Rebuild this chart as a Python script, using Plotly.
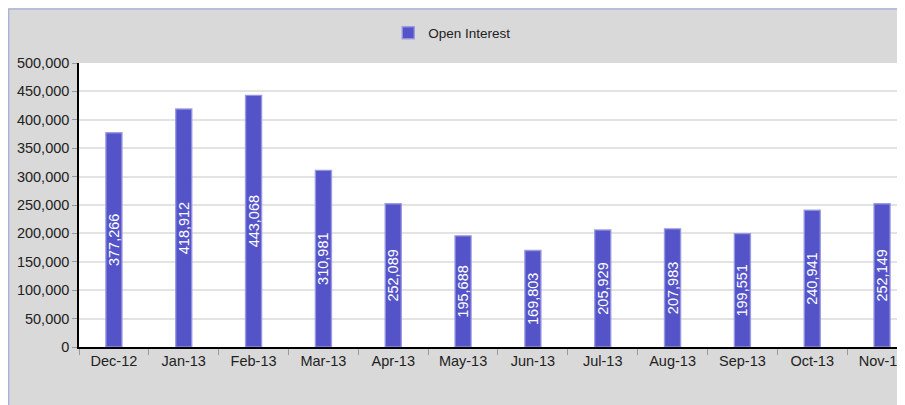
import plotly.graph_objects as go

months = ["Dec-12", "Jan-13", "Feb-13", "Mar-13", "Apr-13", "May-13",
          "Jun-13", "Jul-13", "Aug-13", "Sep-13", "Oct-13", "Nov-13"]
open_interest = [377266, 418912, 443068, 310981, 252089, 195688,
                 169803, 205929, 207983, 199551, 240941, 252149]
y_ticks = [0, 50000, 100000, 150000, 200000, 250000, 300000, 350000, 400000, 450000, 500000]

# page has an 8px body margin, so the figure is placed at (8, 8)
OFF = 8
W, H = 905 - OFF, 405 - OFF
L, R, T, B = 79 - OFF, 0, 63 - OFF, 405 - 347
PW, PH = W - L - R, H - T - B

def px(x):  # page pixel -> paper x
    return (x - OFF - L) / PW

def py(y):  # page pixel -> paper y
    return (H - B - (y - OFF)) / PH

FONT = "Liberation Sans, Arial, sans-serif"

fig = go.Figure()
fig.add_trace(go.Bar(
    x=months,
    y=open_interest,
    name="Open Interest",
    width=0.23,
    marker=dict(color="#5454c8", line=dict(color="rgba(150,150,228,0.9)", width=1.4)),
    text=[f"{v:,}" for v in open_interest],
    textposition="inside",
    insidetextanchor="middle",
    textangle=-90,
    constraintext="none",
    insidetextfont=dict(family=FONT, size=14.5, color="white"),
    cliponaxis=False,
))

shapes = [
    dict(type="line", xref="paper", yref="paper", x0=px(OFF), x1=px(910), y0=py(9), y1=py(9),
         line=dict(color="#aab4d8", width=1.5), layer="above"),
    dict(type="line", xref="paper", yref="paper", x0=px(OFF + 0.5), x1=px(OFF + 0.5), y0=py(9), y1=py(410),
         line=dict(color="#aab4d8", width=1.5), layer="above"),
]

fig.update_layout(
    width=W, height=H,
    margin=dict(l=L, r=R, t=T, b=B, pad=0),
    paper_bgcolor="#d9d9d9",
    plot_bgcolor="white",
    showlegend=True,
    legend=dict(orientation="h", x=px(389), y=py(33), xanchor="left", yanchor="middle",
                bgcolor="rgba(0,0,0,0)", font=dict(family=FONT, size=13.5, color="#222222")),
    font=dict(family=FONT, size=14.5, color="#222222"),
    shapes=shapes,
)

fig.update_xaxes(
    type="category",
    range=[-0.5, 11.3],
    showline=True, linecolor="black", linewidth=1.5,
    ticks="outside", tickson="boundaries", ticklen=6, tickcolor="#999999", tickwidth=1,
    showgrid=False,
    tickfont=dict(family=FONT, size=14.5, color="#222222"),
)
fig.update_yaxes(
    range=[0, 500000],
    tickvals=y_ticks,
    tickformat=",",
    showline=True, linecolor="black", linewidth=1.5,
    ticks="outside", ticklen=5, tickcolor="#999999", tickwidth=1,
    showgrid=True, gridcolor="#e3e3e3", gridwidth=1.5,
    zeroline=False,
    tickfont=dict(family=FONT, size=14.5, color="#222222"),
)

fig.write_html("out.html")
